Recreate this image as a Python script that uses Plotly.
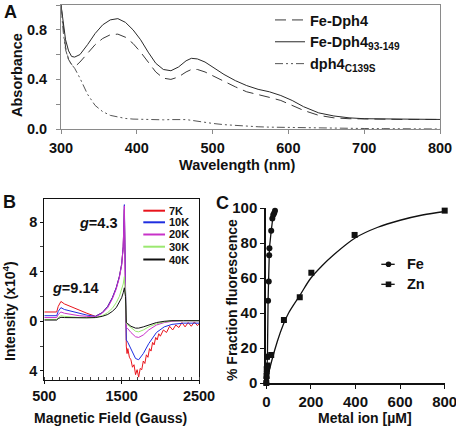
import plotly.graph_objects as go

W, H = 456, 428
FONT = "Liberation Sans, Arial, sans-serif"

def px(x):
    return x / W

def py(y):
    return 1 - y / H

# ---------------- Panel A data ----------------
wavelength = [300, 303, 306, 310, 314, 318, 325, 335, 345, 355, 365, 375, 385, 395, 405, 415, 425,
              435, 445, 455, 465, 472, 480, 490, 500, 515, 530, 545, 560, 575, 590, 605, 620, 640,
              660, 680, 700, 725, 750, 775, 800]
fe_dph4 = [1.0, 0.8, 0.66, 0.56, 0.52, 0.50, 0.54, 0.61, 0.68, 0.73, 0.76, 0.765, 0.74, 0.69, 0.62,
           0.54, 0.46, 0.41, 0.40, 0.42, 0.46, 0.48, 0.48, 0.46, 0.43, 0.38, 0.34, 0.30, 0.28, 0.255,
           0.23, 0.19, 0.15, 0.11, 0.09, 0.083, 0.08, 0.078, 0.077, 0.077, 0.077]
fe_dph4_93_149 = [1.0, 0.84, 0.72, 0.63, 0.585, 0.58, 0.60, 0.68, 0.77, 0.84, 0.88, 0.89, 0.86, 0.80,
                  0.72, 0.62, 0.53, 0.48, 0.47, 0.50, 0.55, 0.57, 0.565, 0.54, 0.50, 0.44, 0.39, 0.35,
                  0.32, 0.30, 0.27, 0.23, 0.18, 0.13, 0.105, 0.09, 0.083, 0.08, 0.078, 0.077, 0.077]
dph4_c139s = [1.0, 0.78, 0.64, 0.56, 0.52, 0.49, 0.41, 0.28, 0.19, 0.14, 0.11, 0.095, 0.085, 0.08,
              0.077, 0.075, 0.074, 0.074, 0.076, 0.078, 0.076, 0.07, 0.062, 0.052, 0.045, 0.035,
              0.028, 0.022, 0.018, 0.015, 0.013, 0.011, 0.01, 0.008, 0.006, 0.005, 0.004, 0.003,
              0.002, 0.001, 0.0]
a_xticks = [300, 400, 500, 600, 700, 800]
a_yticks = [0.0, 0.4, 0.8]
a_yticklabels = ["0.0", "0.4", "0.8"]

# ---------------- Panel B data ----------------
field = [500, 600, 660, 680, 700, 715, 760, 850, 950, 1050, 1160, 1250, 1320, 1380, 1430, 1470,
         1500, 1520, 1535, 1550, 1560, 1580, 1620, 1680, 1720, 1780, 1850, 1950, 2050, 2150, 2300, 2500]
k10 = [0.45, 0.45, 0.45, 0.8, 1.0, 1.1, 0.95, 0.8, 0.65, 0.5, 0.4, 0.7, 1.2, 1.9, 2.7, 3.6, 4.6, 6.0,
       9.4, 0.5, -1.5, -1.7, -2.2, -3.0, -3.1, -2.6, -1.8, -0.9, -0.45, -0.25, -0.15, -0.15]
k20 = [0.3, 0.3, 0.3, 0.55, 0.7, 0.75, 0.65, 0.55, 0.45, 0.4, 0.35, 0.65, 1.1, 1.8, 2.6, 3.5, 4.5, 5.9,
       9.3, 1.5, -0.5, -0.6, -0.9, -1.25, -1.3, -1.1, -0.7, -0.3, -0.1, 0.0, 0.05, 0.05]
k30 = [0.15, 0.15, 0.15, 0.3, 0.4, 0.45, 0.4, 0.35, 0.3, 0.3, 0.3, 0.45, 0.7, 1.05, 1.5, 2.0, 2.5, 3.0,
       3.6, 2.0, -0.2, -0.3, -0.55, -0.8, -0.85, -0.7, -0.45, -0.2, -0.05, 0.05, 0.05, 0.05]
k40 = [0.1, 0.1, 0.1, 0.22, 0.3, 0.32, 0.3, 0.28, 0.28, 0.28, 0.3, 0.4, 0.55, 0.8, 1.1, 1.5, 1.9, 2.3,
       2.7, 2.0, -0.1, -0.2, -0.4, -0.55, -0.55, -0.45, -0.3, -0.1, 0.0, 0.05, 0.05, 0.05]
field_7k = [500, 600, 660, 680, 700, 715, 760, 850, 950, 1050, 1160, 1250, 1320, 1380, 1430, 1470,
            1500, 1520, 1535, 1550, 1560, 1570, 1580, 1600, 1620, 1640, 1660, 1680, 1700, 1720, 1740,
            1760, 1780, 1800, 1820, 1840, 1860, 1880, 1900, 1920, 1940, 1960, 1980, 2000, 2040, 2080,
            2120, 2160, 2200, 2240, 2280, 2320, 2360, 2400, 2440, 2480, 2500]
k7 = [0.75, 0.75, 0.75, 1.2, 1.45, 1.6, 1.4, 1.15, 0.9, 0.65, 0.4, 0.7, 1.2, 1.9, 2.7, 3.6, 4.6, 6.0,
      9.0, 0.0, -2.0, -2.6, -2.2, -2.9, -3.1, -3.7, -3.5, -4.3, -3.9, -4.5, -3.8, -3.9, -3.2, -3.4,
      -2.7, -2.9, -2.2, -2.4, -1.7, -1.9, -1.3, -1.5, -1.0, -1.2, -0.7, -0.9, -0.4, -0.7, -0.3, -0.5,
      -0.1, -0.45, -0.1, -0.4, -0.05, -0.35, -0.2]
b_names = ["7K", "10K", "20K", "30K", "40K"]
b_colors = ["#e8141c", "#1f2ee0", "#c832c8", "#9be870", "#111111"]
b_xticks = [500, 1500, 2500]
b_yticks = [-4, 0, 4, 8]
b_yticklabels = ["4", "0", "4", "8"]

# ---------------- Panel C data ----------------
fe_conc = [0, 1, 2, 3, 5, 8, 11, 13, 14, 22, 27, 31, 35, 39]
fe_frac = [0, 3, 6, 9, 15, 47, 58, 73, 77, 87, 94, 96, 97, 98.5]
zn_conc = [0, 1, 2, 5, 3, 22, 79, 150, 202, 396, 800]
zn_frac = [0, 4, 8, 10, 15, 16, 36, 49, 63, 84.6, 98.5]
zn_fit_conc = [0, 25, 50, 75, 100, 150, 200, 250, 300, 400, 500, 600, 700, 800]
zn_fit_frac = [0, 13, 24, 33, 40, 50, 60, 67, 73, 83, 89, 93, 96, 98]
c_xticks = [0, 200, 400, 600, 800]
c_yticks = [0, 20, 40, 60, 80, 100]

fig = go.Figure()

# Panel A traces
fig.add_trace(go.Scatter(x=wavelength, y=fe_dph4, mode="lines", name="Fe-Dph4",
                         line=dict(color="#3a3a3a", width=1, dash="11px,6px"),
                         xaxis="x", yaxis="y", legend="legend"))
fig.add_trace(go.Scatter(x=wavelength, y=fe_dph4_93_149, mode="lines",
                         name="Fe-Dph4<sub>93-149</sub>",
                         line=dict(color="#2a2a2a", width=1),
                         xaxis="x", yaxis="y", legend="legend"))
fig.add_trace(go.Scatter(x=wavelength, y=dph4_c139s, mode="lines",
                         name="dph4<sub>C139S</sub>",
                         line=dict(color="#555555", width=1, dash="8px,3px,2px,3px,2px,3px"),
                         xaxis="x", yaxis="y", legend="legend"))

# Panel B traces
b_x = [field_7k, field, field, field, field]
b_y = [k7, k10, k20, k30, k40]
for name, col, xs, ys in zip(b_names, b_colors, b_x, b_y):
    fig.add_trace(go.Scatter(x=xs, y=ys, mode="lines", name=name, showlegend=False,
                             line=dict(color=col, width=1), xaxis="x2", yaxis="y2"))

# Panel C traces
fig.add_trace(go.Scatter(x=zn_fit_conc, y=zn_fit_frac, mode="lines", showlegend=False,
                         line=dict(color="#111111", width=1.3, shape="spline"),
                         xaxis="x3", yaxis="y3", cliponaxis=False))
fig.add_trace(go.Scatter(x=zn_conc, y=zn_frac, mode="markers", name="Zn", showlegend=False,
                         marker=dict(symbol="square", size=6, color="#111111"),
                         xaxis="x3", yaxis="y3", cliponaxis=False))
fig.add_trace(go.Scatter(x=fe_conc, y=fe_frac, mode="lines+markers", name="Fe", showlegend=False,
                         line=dict(color="#111111", width=1.3),
                         marker=dict(symbol="circle", size=6, color="#111111"),
                         xaxis="x3", yaxis="y3", cliponaxis=False))

tickfont = dict(family=FONT, size=14.5, color="#111111", weight="bold")
ctickfont = dict(family=FONT, size=15, color="#111111", weight="bold")
gray = "#8a8a8a"

fig.update_layout(
    width=W, height=H,
    margin=dict(l=0, r=0, t=0, b=0, autoexpand=False),
    paper_bgcolor="white", plot_bgcolor="white",
    font=dict(family=FONT, color="#111111"),
    legend=dict(x=px(270), y=py(4), xanchor="left", yanchor="top",
                bgcolor="rgba(0,0,0,0)", itemwidth=30, tracegroupgap=0,
                font=dict(family=FONT, size=14.5, color="#111111", weight="bold")),
    xaxis=dict(domain=[px(61), px(440)], range=[300, 800], tickvals=a_xticks,
               ticks="outside", ticklen=4, tickcolor=gray, linecolor=gray, linewidth=1,
               mirror=True, showgrid=False, zeroline=False, tickfont=tickfont,
               ticklabelstandoff=2, automargin=False, anchor="y"),
    yaxis=dict(domain=[py(129), py(5)], range=[0, 1.0], tickvals=a_yticks,
               ticktext=a_yticklabels, ticks="outside", ticklen=4, tickcolor=gray,
               linecolor=gray, linewidth=1, mirror=True, showgrid=False, zeroline=False,
               tickfont=tickfont, ticklabelstandoff=6, automargin=False, anchor="x",
               minor=dict(dtick=0.2, ticks="outside", ticklen=4, tickcolor=gray, showgrid=False)),
    xaxis2=dict(domain=[px(44.3), px(199)], range=[500, 2500], tickvals=b_xticks,
                ticks="outside", ticklen=3, tickcolor="#111111", linecolor="#111111",
                linewidth=1, mirror=True, showgrid=False, zeroline=False, tickfont=tickfont,
                automargin=False, anchor="y2",
                minor=dict(dtick=100, ticks="inside", ticklen=3, tickcolor="#444444",
                           showgrid=False)),
    yaxis2=dict(domain=[py(380), py(199.3)], range=[-4.73, 9.83], tickvals=b_yticks,
                ticktext=b_yticklabels, ticks="outside", ticklen=3, tickcolor="#111111",
                linecolor="#111111", linewidth=1, mirror=True, showgrid=False, zeroline=False,
                tickfont=tickfont, automargin=False, anchor="x2",
                minor=dict(dtick=2, ticks="outside", ticklen=3, tickcolor="#444444",
                           showgrid=False)),
    xaxis3=dict(domain=[px(266.3), px(444.7)], range=[0, 800], tickvals=c_xticks,
                ticks="outside", ticklen=4, tickcolor="#111111", linecolor="#111111",
                linewidth=2, showgrid=False, zeroline=False, tickfont=ctickfont,
                ticklabeloverflow="allow", automargin=False, anchor="y3"),
    yaxis3=dict(domain=[py(383), py(208)], range=[0, 100], tickvals=c_yticks,
                ticks="outside", ticklen=4, tickcolor="#111111", linecolor="#111111",
                linewidth=2, showgrid=False, zeroline=False, tickfont=ctickfont,
                automargin=False, anchor="x3"),
)

annotations = []

def ann(text, x, y, size=14, angle=0, xanchor="center", weight="bold"):
    annotations.append(dict(text=text, x=px(x), y=py(y), xref="paper", yref="paper",
                            showarrow=False, textangle=angle, xanchor=xanchor, yanchor="middle",
                            font=dict(family=FONT, size=size, color="#111111", weight=weight)))

# Panel letters
ann("A", 10, 12, size=18)
ann("B", 9, 202, size=18)
ann("C", 222, 203, size=18)
# Axis titles
ann("Wavelength (nm)", 237, 165, size=14.5)
ann("Absorbance", 17, 75, size=14.5, angle=-90)
ann("Magnetic Field (Gauss)", 110, 418, size=14)
ann("Intensity (x10<sup>4</sup>)", 9, 311, size=14, angle=-90)
ann("Metal ion [µM]", 365, 418, size=14)
ann("% Fraction fluorescence", 232, 300, size=14, angle=-90)
# g-value labels
ann("<i>g</i>=4.3", 77, 223, size=14.5, xanchor="left")
ann("<i>g</i>=9.14", 50, 288, size=14.5, xanchor="left")

shapes = []
# Panel B legend (manual)
b_leg_y = [210.7, 222.3, 234.5, 246.7, 259.5]
for name, col, yy in zip(b_names, b_colors, b_leg_y):
    shapes.append(dict(type="line", xref="paper", yref="paper", x0=px(143.3), x1=px(165),
                       y0=py(yy), y1=py(yy), line=dict(color=col, width=2)))
    ann(name, 166.5, yy, size=11, xanchor="left")

# Panel C legend (manual)
for name, yy, sym in [("Fe", 264.3, "circle"), ("Zn", 284.3, "square")]:
    shapes.append(dict(type="line", xref="paper", yref="paper", x0=px(381.3), x1=px(394.7),
                       y0=py(yy), y1=py(yy), line=dict(color="#111111", width=1.3)))
    shapes.append(dict(type=("circle" if sym == "circle" else "rect"), xref="paper",
                       yref="paper", x0=px(385.7), x1=px(391.3), y0=py(yy + 2.8),
                       y1=py(yy - 2.8), fillcolor="#111111", line=dict(width=0)))
    ann(name, 404.5, yy, size=14.5, xanchor="left")

fig.update_layout(annotations=annotations, shapes=shapes)

fig.write_html(
    "out.html",
    config={"displayModeBar": False},
    post_script="document.body.style.margin='0';document.body.style.overflow='hidden';",
)
